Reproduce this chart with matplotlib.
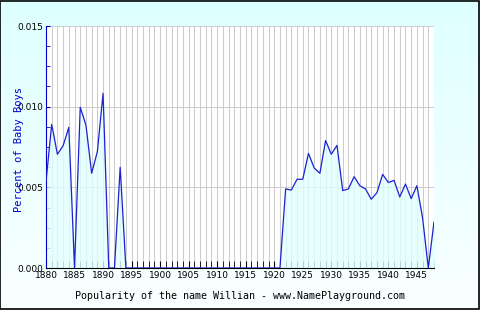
import numpy as np
import matplotlib.pyplot as plt
from matplotlib.ticker import MultipleLocator

# years and share of baby boys named Willian
years = list(range(1880, 1949))
early = [0.00535, 0.0089, 0.00705, 0.00758, 0.00872, 0.0, 0.00996, 0.00886,
         0.00587, 0.00721, 0.01083, 0.0, 0.0, 0.00624, 0.0]
gap = [0.0] * 27  # 1895 - 1921
late = [0.0049, 0.00483, 0.0055, 0.0055, 0.0071, 0.0062, 0.00587, 0.0079,
        0.00705, 0.0076, 0.0048, 0.0049, 0.00566, 0.0051, 0.0049, 0.00426,
        0.00467, 0.0058, 0.0053, 0.00543, 0.0044, 0.0052, 0.0043, 0.0051,
        0.0031, 0.0, 0.00285]
values = early + gap + late

ytick_vals = [0.0, 0.005, 0.010, 0.015]
ytick_labels = ['0.000', '0.005', '0.010', '0.015']

fig = plt.figure(figsize=(4.8, 3.1), dpi=100)

# background gradient
bg = fig.add_axes([0, 0, 1, 1], zorder=-10)
grad = np.linspace(0, 1, 256).reshape(-1, 1)
top = np.array([0.87, 1.0, 1.0])
bottom = np.array([0.98, 1.0, 1.0])
img = top * (1 - grad[:, :, None]) + bottom * grad[:, :, None]
bg.imshow(img, aspect='auto', extent=[0, 1, 0, 1])
bg.set_xlim(0, 1)
bg.set_ylim(0, 1)
bg.axis('off')
fig.patches.append(plt.Rectangle((0.001, 0.002), 0.997, 0.995, transform=fig.transFigure,
                                 fill=False, edgecolor='black', linewidth=1.2))

ax = fig.add_axes([46 / 480, 1 - 268 / 310, 388 / 480, 242 / 310])
ax.set_facecolor('white')
ax.fill_between(years, values, 0, color='#e0ffff', alpha=0.8, zorder=1)
ax.plot(years, values, color='#2020d0', linewidth=0.9, zorder=3)

ax.set_xlim(1880, 1948)
ax.set_ylim(0, 0.015)

ax.xaxis.set_major_locator(MultipleLocator(5))
ax.xaxis.set_minor_locator(MultipleLocator(1))
ax.set_yticks(ytick_vals)
ax.set_yticklabels(ytick_labels)
ax.yaxis.set_minor_locator(MultipleLocator(0.00125))

ax.grid(which='both', axis='x', color='#cccccc', linewidth=0.75, zorder=0)
ax.grid(which='major', axis='y', color='#cccccc', linewidth=0.75, zorder=0)
ax.set_axisbelow(True)

ax.tick_params(axis='x', which='both', direction='in', length=5, color='black',
               labelsize=6.5, pad=2)
ax.tick_params(axis='y', which='both', direction='in', length=3, color='#0000cc',
               labelsize=6.5, pad=2)

for s in ['top', 'right']:
    ax.spines[s].set_visible(False)
ax.spines['left'].set_color('#0000cc')
ax.spines['bottom'].set_color('black')

# the label sits over the tick labels in the original too
ax.set_ylabel('Percent of Baby Boys', color='#0000cc', family='DejaVu Sans Mono',
              fontsize=7.5)
ax.yaxis.set_label_coords(-0.056, 0.49)
ax.set_xlabel('Popularity of the name Willian - www.NamePlayground.com',
              family='DejaVu Sans Mono', fontsize=7.2, labelpad=8)

fig.savefig('out.png', dpi=100)
